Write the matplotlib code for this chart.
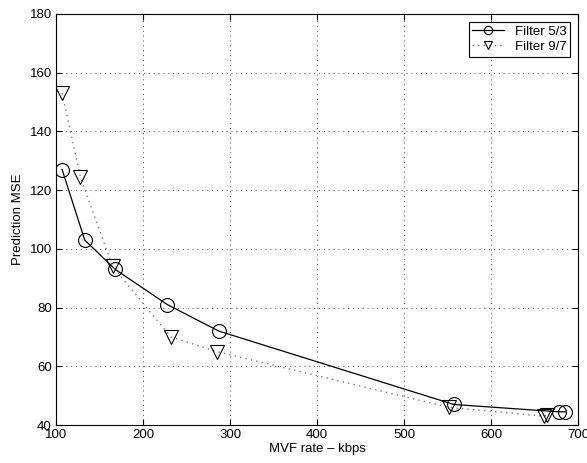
import matplotlib
matplotlib.use('Agg')
import matplotlib.pyplot as plt

plt.rcParams['font.family'] = ['Liberation Sans', 'DejaVu Sans']
plt.rcParams['font.size'] = 9.5

# Dados
rate_53 = [107, 133, 168, 228, 287, 557, 678, 685]
mse_53 = [127, 103, 93, 81, 72, 47, 44.5, 44.5]
rate_97 = [107, 128, 165, 232, 285, 552, 661, 664]
mse_97 = [153, 124.5, 94, 70, 65, 46, 43, 43.5]

fig = plt.figure(figsize=(5.87, 4.63), dpi=100)
ax = fig.add_axes([0.0954, 0.082, 0.8896, 0.888])

ax.plot(rate_53, mse_53, '-', color='black', lw=0.9, marker='o', ms=10,
        mfc='none', mec='black', mew=0.8, label='Filter 5/3')
ax.plot(rate_97, mse_97, color='#777777', ls=(0, (1, 3)), lw=1.0, marker='v', ms=10,
        mfc='none', mec='black', mew=0.8, label='Filter 9/7')

ax.set_xlim(100, 700)
ax.set_ylim(40, 180)
ax.set_xticks(range(100, 701, 100))
ax.set_yticks(range(40, 181, 20))
ax.grid(True, linestyle=(0, (1, 4)), color='#444444', lw=0.7)
ax.tick_params(direction='in', length=4, top=True, right=True, pad=3)
for s in ax.spines.values():
    s.set_linewidth(0.8)

ax.set_xlabel('MVF rate – kbps', labelpad=1)
ax.set_ylabel('Prediction MSE', labelpad=4)

leg = ax.legend(loc='upper right', fancybox=False, edgecolor='black',
                framealpha=1, handlelength=2.4, borderpad=0.3, markerscale=0.6,
                labelspacing=0.2, borderaxespad=0.6)
leg.get_frame().set_linewidth(0.8)

fig.savefig('out.png', dpi=100)
